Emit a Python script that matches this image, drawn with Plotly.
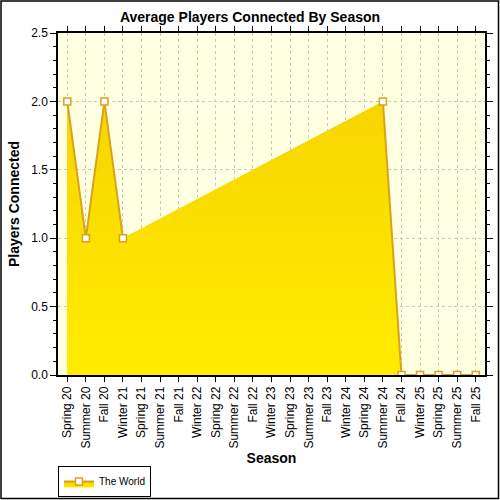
import plotly.graph_objects as go

# シーズン（カテゴリ）
seasons = [
    "Spring 20", "Summer 20", "Fall 20", "Winter 21", "Spring 21", "Summer 21",
    "Fall 21", "Winter 22", "Spring 22", "Summer 22", "Fall 22", "Winter 23",
    "Spring 23", "Summer 23", "Fall 23", "Winter 24", "Spring 24", "Summer 24",
    "Fall 24", "Winter 25", "Spring 25", "Summer 25", "Fall 25",
]
# 平均接続プレイヤー数（None = データなし）
players = [
    2, 1, 2, 1, None, None,
    None, None, None, None, None, None,
    None, None, None, None, None, 2,
    0, 0, 0, 0, 0,
]

gold = "#D9A21B"
grad = dict(type="vertical", start=0, stop=2.5,
            colorscale=[[0, "#FFEC00"], [1, "#F5CF00"]])

fig = go.Figure()

# 面（欠損をつないで塗る）
fig.add_trace(go.Scatter(
    x=seasons, y=players, mode="lines", connectgaps=True,
    line=dict(width=0, color="#FFE600"), fill="tozeroy", fillgradient=grad,
    showlegend=False, hoverinfo="skip",
))

# 線とマーカー（欠損は切る）
fig.add_trace(go.Scatter(
    x=seasons, y=players, mode="lines+markers", connectgaps=False,
    name="The World", fill="tozeroy", fillgradient=grad,
    line=dict(color=gold, width=2),
    marker=dict(symbol="square", size=7, color="white",
                line=dict(color=gold, width=1.5)),
))

ml, mr, mt, mb = 58, 15, 33, 125
pw, ph = 500 - ml - mr, 500 - mt - mb

fig.update_layout(
    width=500, height=500, autosize=False,
    margin=dict(l=ml, r=mr, t=mt, b=mb),
    paper_bgcolor="white", plot_bgcolor="#FFFFE2",
    font=dict(family="Arial, Liberation Sans, sans-serif", size=12, color="black"),
    title=dict(text="<b>Average Players Connected By Season</b>",
               x=0.5, xanchor="center", y=1 - 17 / 500, yanchor="middle",
               yref="container", font=dict(size=14)),
    # 凡例はコンテナ基準で置く（余白を押し広げないように）
    legend=dict(x=ml / 500, y=1 - 466 / 500, xref="container", yref="container",
                xanchor="left", yanchor="top",
                orientation="h", bgcolor="white", bordercolor="black",
                borderwidth=1, font=dict(size=10), itemwidth=30),
    showlegend=True,
    shapes=[dict(type="rect", xref="paper", yref="paper",
                 x0=-(ml - 1) / pw, x1=1 + (mr - 1.5) / pw,
                 y0=-(mb - 1.5) / ph, y1=1 + (mt - 1) / ph,
                 line=dict(color="black", width=1.5), layer="above")],
)

fig.update_xaxes(
    type="category", range=[-0.5, 22.5], automargin=False,
    title=dict(text="<b>Season</b>", standoff=13),
    tickangle=-90, ticks="outside", ticklen=5, tickcolor="black",
    showline=True, linecolor="black", linewidth=1.5, mirror="ticks",
    showgrid=True, gridcolor="#C8C8C8", griddash="dot", gridwidth=1,
)
fig.update_yaxes(
    range=[0, 2.5], dtick=0.5, tickformat=".1f", automargin=False,
    title=dict(text="<b>Players Connected</b>", standoff=8),
    ticks="outside", ticklen=6, tickcolor="black",
    showline=True, linecolor="black", linewidth=1.5, mirror="ticks",
    showgrid=True, gridcolor="#C8C8C8", griddash="dot", gridwidth=1,
    zeroline=False,
    minor=dict(dtick=0.1, ticks="outside", ticklen=3, tickcolor="black", showgrid=False),
)

fig.write_html(
    "out.html",
    config={"responsive": False, "displayModeBar": False},
    post_script="document.body.style.margin='0';"
                "Plotly.relayout(document.getElementById('{plot_id}'),{width:500,height:500});",
)
